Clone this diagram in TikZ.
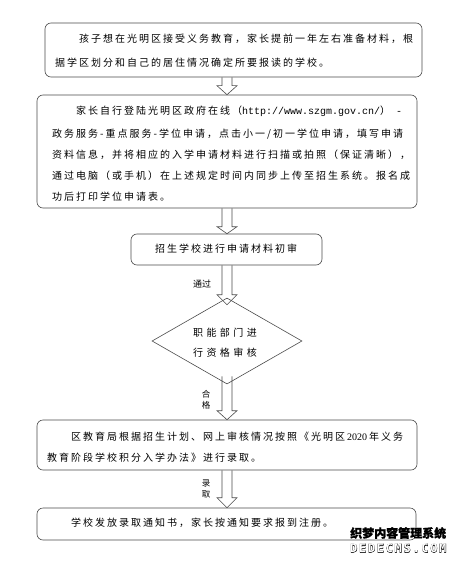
\documentclass[tikz,border=0pt]{standalone}
\usepackage{fontspec}
\usetikzlibrary{shapes.geometric,calc}
\newfontfamily\cjk{Noto Sans CJK SC}[LetterSpace=20]
\newfontfamily\cjkwide{Noto Sans CJK SC}[LetterSpace=34]
\newfontfamily\cjkplain{Noto Sans CJK SC}
\newfontfamily\urlfont{Liberation Mono}
\newfontfamily\numfont{Liberation Serif}
\newfontfamily\wmfont{Noto Sans CJK SC}[BoldFeatures={FakeBold=1}]
\newfontfamily\wmhalo{Noto Sans CJK SC}[FakeBold=8]
\newfontfamily\wmlatA{DejaVu Sans Mono}[LetterSpace=14,BoldFeatures={FakeBold=4}]
\newfontfamily\wmlatB{DejaVu Sans Mono}[LetterSpace=14]
\newcommand{\hollowarrow}[3]{\draw[arrowline] ($(#1)+(-5,0)$) -- ($(#2)+(-5,-#3)$) -- ($(#2)+(-10,-#3)$) -- (#2) -- ($(#2)+(10,-#3)$) -- ($(#2)+(5,-#3)$) -- ($(#1)+(5,0)$);}
\tikzset{
  box/.style={draw=black!70, line width=0.6pt, rounded corners=6pt, inner sep=0pt},
  dia/.style={draw=black!70, line width=0.6pt, diamond, inner sep=0pt},
  arrowline/.style={draw=black!70, line width=0.6pt, line join=miter},
  txt/.style={inner sep=0pt, anchor=base west, font=\cjk\fontsize{10}{12}\selectfont},
  dtxt/.style={inner sep=0pt, anchor=base west, font=\cjkwide\fontsize{10}{12}\selectfont},
  lbl/.style={inner sep=0pt, align=center, font=\cjkplain\fontsize{8.5}{11}\selectfont},
}
\begin{document}
\begin{tikzpicture}[x=1pt,y=-1pt]
\useasboundingbox (0,0) rectangle (459,561);
\fill[white] (0,0) rectangle (459,561);
\coordinate (ax) at (227,0);
% boxes
\node[box, minimum width=377pt, minimum height=54pt] (b1) at (233.5,50) {};
\node[box, minimum width=380pt, minimum height=113pt] (b2) at (227,151.5) {};
\node[box, minimum width=191pt, minimum height=31pt] (b3) at (226.5,249.5) {};
\node[dia, minimum width=150pt, minimum height=86pt] (d) at (227,341) {};
\node[box, minimum width=380pt, minimum height=50pt] (b4) at (227,445) {};
\node[box, minimum width=379pt, minimum height=32pt] (b5) at (226.5,524) {};
% texts
\node[txt] (t1a) at (55,42.7) {　　孩子想在光明区接受义务教育，家长提前一年左右准备材料，根};
\node[txt] (t1b) at (55,66.7) {据学区划分和自己的居住情况确定所要报读的学校。};
\node[txt] (t2a) at (52,114.7) {　　家长自行登陆光明区政府在线（{\urlfont http://www.szgm.gov.cn/}）{\urlfont\ -}};
\node[txt] (t2b) at (52,137.7) {政务服务-重点服务-学位申请，点击小一/初一学位申请，填写申请};
\node[txt] (t2c) at (52,158.7) {资料信息，并将相应的入学申请材料进行扫描或拍照（保证清晰），};
\node[txt] (t2d) at (52,179.7) {通过电脑（或手机）在上述规定时间内同步上传至招生系统。报名成};
\node[txt] (t2e) at (52,200.7) {功后打印学位申请表。};
\node[txt] (t3) at (155,252.7) {招生学校进行申请材料初审};
\node[dtxt] (td1) at (193,336.7) {职能部门进};
\node[dtxt] (td2) at (193,356.7) {行资格审核};
\node[txt] (t4a) at (47,440.7) {　　区教育局根据招生计划、网上审核情况按照《光明区\hspace{2pt}{\numfont 2020}\hspace{2pt}年义务};
\node[txt] (t4b) at (47,461.7) {教育阶段学校积分入学办法》进行录取。};
\node[txt] (t5) at (47,526.7) {　　学校发放录取通知书，家长按通知要求报到注册。};
% labels
\node[lbl, anchor=base west, font=\cjkplain\fontsize{9}{11}\selectfont] (l1) at (193,287.3) {通过};
\node[lbl] (l2) at (206,400) {合\\格};
\node[lbl] (l3) at (206,489) {录\\取};
% arrows
\coordinate (tip3) at ($(d.north)+(0,7)$);
\coordinate (top4) at ($(d.south)+(0,-8)$);
\hollowarrow{ax |- b1.south}{ax |- b2.north}{9}
\hollowarrow{ax |- b2.south}{ax |- b3.north}{7}
\hollowarrow{ax |- b3.south}{tip3}{10}
\hollowarrow{top4}{ax |- b4.north}{9}
\hollowarrow{ax |- b4.south}{ax |- b5.north}{10}
% watermark
\node[inner sep=0pt, anchor=base west, text=white, font=\wmhalo\fontsize{12}{12}\selectfont] (wmh) at (350,537.6) {织梦内容管理系统};
\node[inner sep=0pt, anchor=base west, text=black, font=\wmfont\bfseries\fontsize{12}{12}\selectfont] (wm1) at (350,537.6) {织梦内容管理系统};
\node[inner sep=0pt, anchor=base west, text=black, font=\wmlatA\bfseries\fontsize{12}{12}\selectfont] (wm2) at (350,552.5) {DEDECMS.COM};
\node[inner sep=0pt, anchor=base west, text=white, font=\wmlatB\bfseries\fontsize{12}{12}\selectfont] (wm3) at (350,552.5) {DEDECMS.COM};
\end{tikzpicture}
\end{document}
